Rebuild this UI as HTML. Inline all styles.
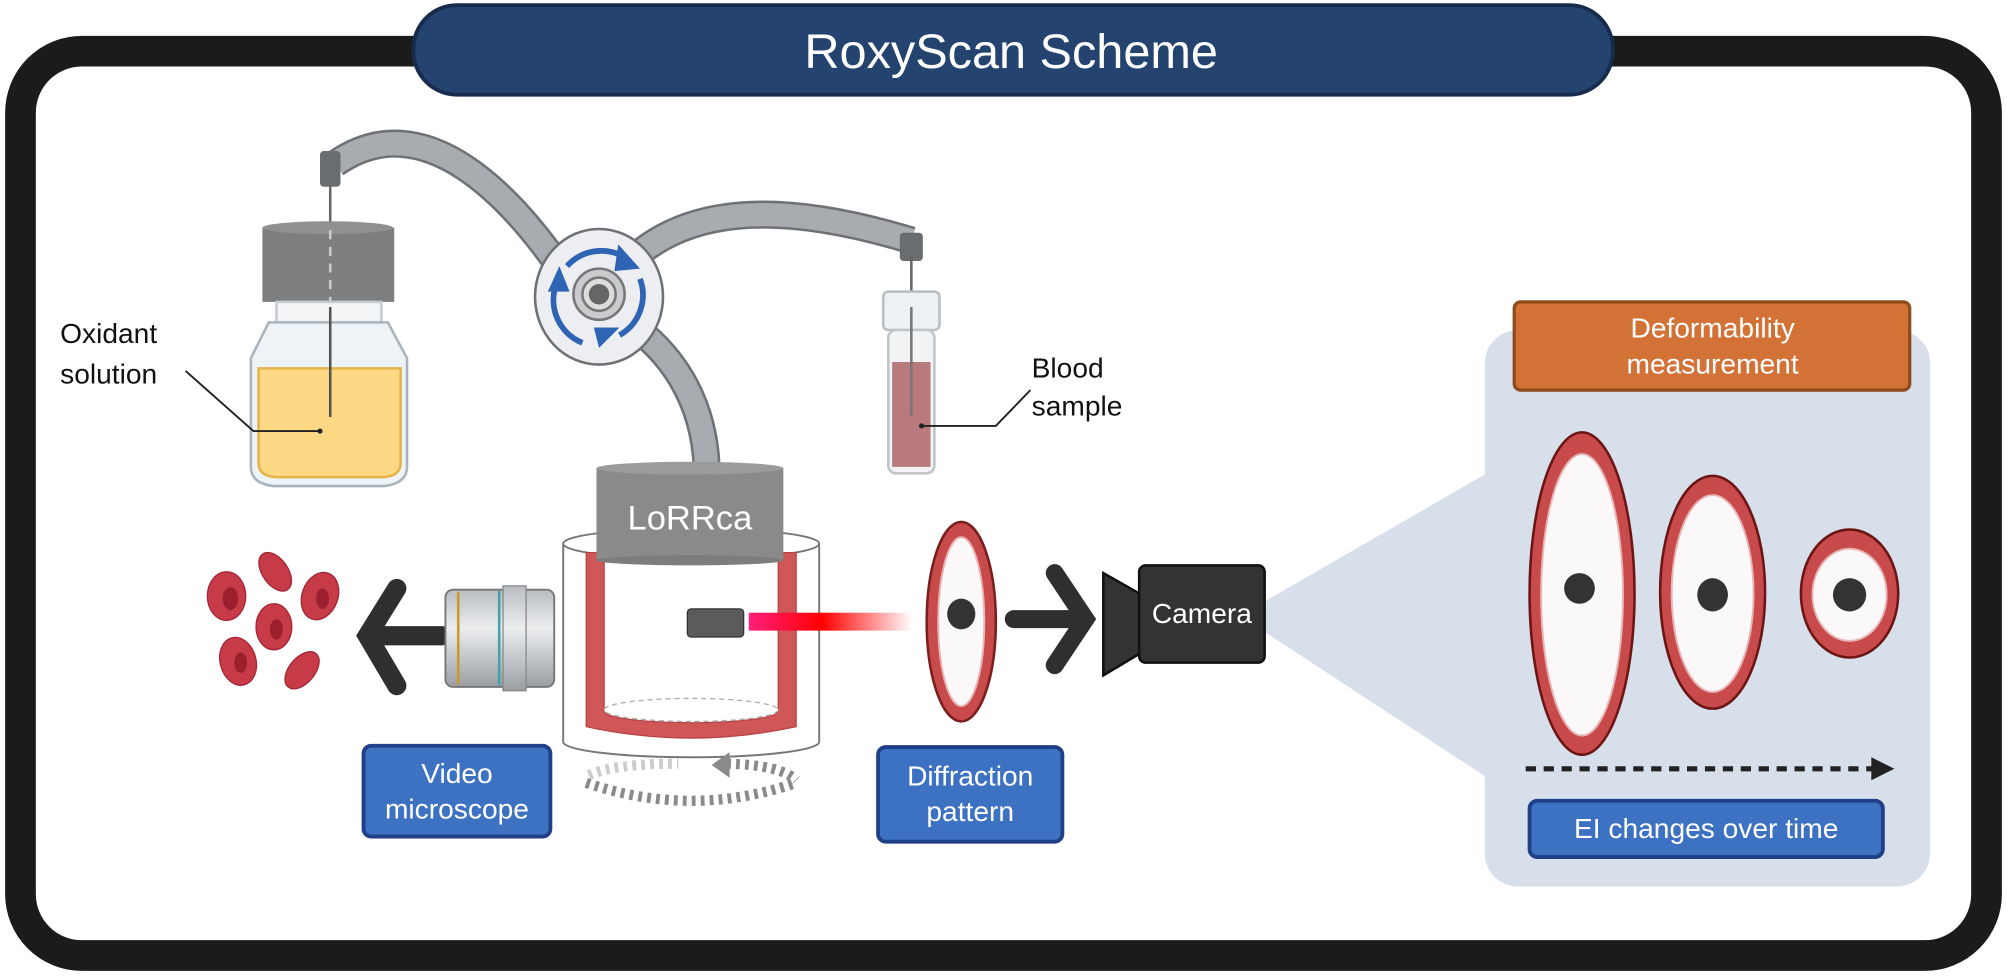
<!DOCTYPE html>
<html><head><meta charset="utf-8"><style>
html,body{margin:0;padding:0;background:#fff;}
svg{display:block;}
text{font-family:"Liberation Sans",sans-serif;}
</style></head><body>
<svg width="2007" height="976" viewBox="0 0 1568 763" preserveAspectRatio="none" xmlns="http://www.w3.org/2000/svg">
<defs>
<linearGradient id="laser" x1="0" x2="1"><stop offset="0" stop-color="#ff1f7a"/><stop offset="0.45" stop-color="#ff0000"/><stop offset="1" stop-color="#ff0000" stop-opacity="0"/></linearGradient>
<linearGradient id="lens" x1="0" x2="0" y1="0" y2="1"><stop offset="0" stop-color="#b9bcc0"/><stop offset="0.4" stop-color="#eceef0"/><stop offset="1" stop-color="#9a9ea3"/></linearGradient>
</defs>
<rect x="0" y="0" width="1568" height="763" fill="#fff"/>
<rect x="16" y="40" width="1536" height="707" rx="48" fill="#fff" stroke="#1b1b1b" stroke-width="24"/>
<rect x="323" y="4" width="937" height="70" rx="34" fill="#24446f" stroke="#172c4d" stroke-width="3"/>
<text x="790" y="53" font-size="38" fill="#fff" text-anchor="middle">RoxyScan Scheme</text>

<g fill="none" stroke-linecap="butt">
<path d="M262 128 C330 80 400 150 450 228" stroke="#6e7277" stroke-width="22"/>
<path d="M262 128 C330 80 400 150 450 228" stroke="#a8acb0" stroke-width="18"/>
<path d="M470 232 C520 150 620 160 712 188" stroke="#6e7277" stroke-width="22"/>
<path d="M470 232 C520 150 620 160 712 188" stroke="#a8acb0" stroke-width="18"/>
<path d="M470 240 C530 270 550 320 552 364" stroke="#6e7277" stroke-width="22"/>
<path d="M470 240 C530 270 550 320 552 364" stroke="#a8acb0" stroke-width="18"/>
</g>
<ellipse cx="468" cy="232" rx="50" ry="53" fill="#eceef1" stroke="#6e7277" stroke-width="2"/>
<circle cx="468" cy="230" r="20" fill="#c9cbce" stroke="#777" stroke-width="2"/>
<circle cx="468" cy="230" r="13" fill="#ddd" stroke="#777" stroke-width="2"/>
<circle cx="468" cy="230" r="8" fill="#666"/>
<g fill="none" stroke="#2f64b4" stroke-width="4.5">
<path d="M443 208 A36 36 0 0 1 486 200"/><path d="M500 218 A36 36 0 0 1 484 262"/><path d="M455 268 A36 36 0 0 1 434 224"/>
</g>
<g fill="#2f64b4"><polygon points="483,191 500,210 480,212"/><polygon points="484,256 468,272 464,256"/><polygon points="428,228 437,208 445,228"/></g>

<line x1="258" y1="128" x2="258" y2="326" stroke="#666" stroke-width="2"/>
<rect x="250" y="118" width="16" height="28" rx="3" fill="#6a6d70"/>
<rect x="205" y="178" width="103" height="58" fill="#7c7e80"/>
<ellipse cx="256" cy="178" rx="51" ry="5" fill="#8e9092"/>
<line x1="258" y1="180" x2="258" y2="236" stroke="#ccc" stroke-width="2" stroke-dasharray="7 6"/>
<rect x="216" y="236" width="82" height="16" fill="#f3f5f7" stroke="#c5ccd2" stroke-width="2"/>
<path d="M210 252 L303 252 L318 280 L318 365 Q318 378 300 380 L214 380 Q196 378 196 365 L196 280 Z" fill="#eef3f6" stroke="#a9b4bc" stroke-width="2"/>
<path d="M202 288 L313 288 L313 362 Q313 372 300 373 L215 373 Q202 372 202 362 Z" fill="#fdd985" stroke="#e4b34a" stroke-width="2"/>
<line x1="258" y1="240" x2="258" y2="326" stroke="#555" stroke-width="2"/>
<text x="47" y="268" font-size="22" fill="#111">Oxidant</text>
<text x="47" y="300" font-size="22" fill="#111">solution</text>
<polyline points="145,290 198,337 250,337" fill="none" stroke="#222" stroke-width="1.5"/>
<circle cx="250" cy="337" r="2" fill="#222"/>

<rect x="703" y="182" width="18" height="22" rx="3" fill="#6a6d70"/>
<line x1="712" y1="200" x2="712" y2="322" stroke="#666" stroke-width="2"/>
<rect x="690" y="228" width="44" height="30" rx="4" fill="#eef1f3" stroke="#b8bec3" stroke-width="2"/>
<rect x="694" y="258" width="36" height="112" rx="6" fill="#f1f3f5" stroke="#c0c5c9" stroke-width="2"/>
<rect x="697" y="283" width="30" height="82" fill="#b97a7e"/>
<line x1="712" y1="240" x2="712" y2="325" stroke="#777" stroke-width="2"/>
<text x="806" y="295" font-size="22" fill="#111">Blood</text>
<text x="806" y="325" font-size="22" fill="#111">sample</text>
<polyline points="805,305 778,333 720,333" fill="none" stroke="#222" stroke-width="1.5"/>
<circle cx="720" cy="333" r="2" fill="#222"/>

<ellipse cx="540" cy="425" rx="100" ry="12" fill="#fff" stroke="#777" stroke-width="1.5"/>
<line x1="440" y1="425" x2="440" y2="580" stroke="#777" stroke-width="1.5"/>
<line x1="640" y1="425" x2="640" y2="580" stroke="#777" stroke-width="1.5"/>
<path d="M440 580 A100 12 0 0 0 640 580" fill="none" stroke="#777" stroke-width="1.5"/>
<path d="M458 432 L472 432 L472 556 A68 9 0 0 0 608 556 L608 432 L622 432 L622 568 Q540 586 458 568 Z" fill="#d05757" stroke="#b84444" stroke-width="1"/>
<ellipse cx="540" cy="555" rx="68" ry="9" fill="#fff" stroke="#aaa" stroke-width="1" stroke-dasharray="4 3"/>
<rect x="466" y="366" width="146" height="72" fill="#8a8a8a"/>
<ellipse cx="539" cy="366" rx="73" ry="5" fill="#9b9b9b"/>
<ellipse cx="539" cy="438" rx="73" ry="4" fill="#7d7d7d"/>
<text x="539" y="414" font-size="27" fill="#fff" text-anchor="middle">LoRRca</text>
<rect x="537" y="476" width="44" height="22" rx="3" fill="#5b5b5b" stroke="#333" stroke-width="1"/>
<rect x="585" y="479" width="128" height="14" fill="url(#laser)"/>
<g fill="none" stroke-width="8" stroke-dasharray="3 4">
<path d="M458 612 Q540 640 622 612" stroke="#8a8a8a"/>
<path d="M460 606 Q480 597 530 597" stroke="#ccc"/>
<path d="M568 597 Q610 598 622 610" stroke="#8a8a8a"/>
</g>
<polygon points="556,598 570,588 570,608" fill="#8a8a8a"/>

<g fill="#c73a48" stroke="#a12634" stroke-width="1">
<ellipse cx="215" cy="447" rx="10" ry="17" transform="rotate(-35 215 447)"/>
<ellipse cx="177" cy="466" rx="15" ry="19"/>
<ellipse cx="250" cy="466" rx="14" ry="19" transform="rotate(20 250 466)"/>
<ellipse cx="214" cy="490" rx="14" ry="18"/>
<ellipse cx="186" cy="517" rx="14" ry="19" transform="rotate(-15 186 517)"/>
<ellipse cx="236" cy="524" rx="10" ry="17" transform="rotate(40 236 524)"/>
</g>
<g fill="#9b1f2d"><ellipse cx="180" cy="468" rx="6" ry="9"/><ellipse cx="216" cy="492" rx="5" ry="8"/><ellipse cx="252" cy="468" rx="5" ry="8"/><ellipse cx="188" cy="518" rx="5" ry="8"/></g>
<g stroke="#2f2f2f" stroke-width="15" stroke-linecap="round" fill="none">
<line x1="345" y1="497" x2="296" y2="497"/><polyline points="310,460 287,497 310,536"/>
</g>
<rect x="348" y="461" width="85" height="76" rx="6" fill="url(#lens)" stroke="#777" stroke-width="1.5"/>
<line x1="358" y1="463" x2="358" y2="535" stroke="#c79a2b" stroke-width="2"/>
<line x1="390" y1="462" x2="390" y2="536" stroke="#3fa4a8" stroke-width="2"/>
<rect x="393" y="458" width="18" height="82" fill="url(#lens)" stroke="#888" stroke-width="1"/>
<rect x="284" y="583" width="146" height="71" rx="6" fill="#3d71c1" stroke="#1f3f86" stroke-width="3"/>
<text x="357" y="612" font-size="22" fill="#fff" text-anchor="middle">Video</text>
<text x="357" y="640" font-size="22" fill="#fff" text-anchor="middle">microscope</text>
<rect x="686" y="584" width="144" height="74" rx="6" fill="#3d71c1" stroke="#1f3f86" stroke-width="3"/>
<text x="758" y="614" font-size="22" fill="#fff" text-anchor="middle">Diffraction</text>
<text x="758" y="642" font-size="22" fill="#fff" text-anchor="middle">pattern</text>

<ellipse cx="751" cy="486" rx="27" ry="78" fill="#c94a4a" stroke="#7a1e1e" stroke-width="2"/>
<ellipse cx="751" cy="486" rx="18" ry="66" fill="#faf8f9" stroke="#e8b5b7" stroke-width="1.5"/>
<ellipse cx="751" cy="480" rx="11" ry="12" fill="#333"/>
<g stroke="#2f2f2f" stroke-width="14" stroke-linecap="round" fill="none">
<line x1="792" y1="484" x2="840" y2="484"/><polyline points="824,448 848,484 824,520"/>
</g>

<polygon points="985,472 1165,368 1165,610 985,492" fill="#d6dfea"/>
<rect x="1160" y="258" width="348" height="435" rx="26" fill="#d6dfea"/>
<polygon points="862,448 892,465 892,510 862,528" fill="#333" stroke="#111" stroke-width="2"/>
<rect x="890" y="442" width="98" height="76" rx="5" fill="#333" stroke="#111" stroke-width="2"/>
<text x="939" y="487" font-size="22" fill="#fff" text-anchor="middle">Camera</text>

<rect x="1183" y="236" width="309" height="69" rx="5" fill="#d27237" stroke="#8f4a1c" stroke-width="2.5"/>
<text x="1338" y="264" font-size="22" fill="#fff" text-anchor="middle">Deformability</text>
<text x="1338" y="292" font-size="22" fill="#fff" text-anchor="middle">measurement</text>
<g stroke="#6b1515" stroke-width="2">
<ellipse cx="1236" cy="464" rx="41" ry="126" fill="#c94a4a"/>
<ellipse cx="1338" cy="463" rx="41" ry="91" fill="#c94a4a"/>
<ellipse cx="1445" cy="464" rx="38" ry="50" fill="#c94a4a"/>
</g>
<g fill="#faf8f9" stroke="#e8b5b7" stroke-width="1.5">
<ellipse cx="1236" cy="465" rx="32" ry="110"/>
<ellipse cx="1338" cy="464" rx="32" ry="77"/>
<ellipse cx="1445" cy="465" rx="29" ry="36"/>
</g>
<g fill="#333"><ellipse cx="1234" cy="460" rx="12" ry="12"/><ellipse cx="1338" cy="465" rx="12" ry="13"/><ellipse cx="1445" cy="465" rx="13" ry="13"/></g>
<line x1="1192" y1="601" x2="1466" y2="601" stroke="#222" stroke-width="4" stroke-dasharray="8 6"/>
<polygon points="1462,592 1480,601 1462,610" fill="#222"/>
<rect x="1195" y="626" width="276" height="44" rx="6" fill="#3d71c1" stroke="#1f3f86" stroke-width="3"/>
<text x="1333" y="655" font-size="22" fill="#fff" text-anchor="middle">EI changes over time</text>
</svg>
</body></html>
